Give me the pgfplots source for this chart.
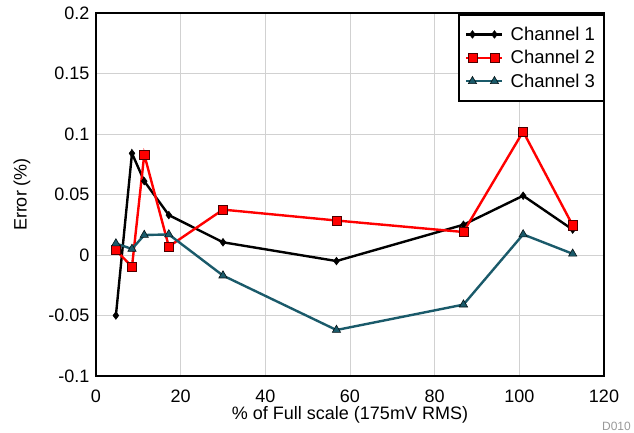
\documentclass[border=0pt]{standalone}
\usepackage{fontspec}
\setmainfont{Liberation Sans}
\usepackage{pgfplots}
\pgfplotsset{compat=1.18}
\definecolor{chthree}{RGB}{26,90,106}
\begin{document}
\begin{tikzpicture}
\useasboundingbox (-96pt,-57pt) rectangle (538pt,376pt);
\begin{axis}[
 at={(0,0)}, anchor=south west,
 scale only axis, width=508pt, height=363pt,
 xmin=0,xmax=120,ymin=-0.1,ymax=0.2,
 xtick={0,20,40,60,80,100,120},
 xticklabels={0,20,40,60,80,100,120},
 ytick={-0.1,-0.05,0,0.05,0.1,0.15,0.2},
 yticklabels={-0.1,-0.05,0,0.05,0.1,0.15,0.2},
 grid=major, grid style={black!18, line width=0.9pt},
 major tick length=0pt,
 axis line style={line width=1.8pt},
 tick label style={font=\fontsize{18}{21}\selectfont},
 yticklabel style={xshift=-3pt},
 xticklabel style={yshift=-10pt},
 xlabel={\% of Full scale (175mV RMS)},
 ylabel={Error (\%)},
 label style={font=\fontsize{18}{21}\selectfont},
 xlabel style={at={(axis description cs:0.5,0)}, anchor=north, yshift=-27pt},
 ylabel style={at={(axis description cs:0,0.5)}, anchor=center, yshift=74pt},
 legend style={at={(1,1)}, anchor=north east, xshift=1pt, yshift=-1pt, draw=black, line width=2pt,
   font=\fontsize{18.5}{22}\selectfont, cells={anchor=west}, nodes={inner sep=3pt},
   inner xsep=6pt, inner ysep=9pt, row sep=2.5pt, column sep=4pt},
 legend image code/.code={
   \draw[mark repeat=2,mark phase=2,#1] plot coordinates {(0pt,0pt) (6pt,0pt) (17pt,0pt) (28pt,0pt) (36pt,0pt)};
 },
]
\addplot[black, line width=2.4pt, mark=diamond*, mark size=3.8pt, mark options={fill=black, line width=0.6pt}]
 coordinates {(4.7,-0.05) (8.5,0.084) (11.4,0.061) (17.2,0.033) (30,0.0105) (56.8,-0.005) (86.8,0.025) (100.9,0.049) (112.6,0.021)};
\addlegendentry{Channel 1}
\addplot[red, line width=2.4pt, mark=square*, mark size=4.6pt, mark options={fill=red, draw=black!70!red, line width=0.6pt}]
 coordinates {(4.7,0.004) (8.5,-0.0097) (11.4,0.083) (17.2,0.007) (30,0.0375) (56.8,0.0285) (86.8,0.019) (100.9,0.102) (112.6,0.0245)};
\addlegendentry{Channel 2}
\addplot[chthree, line width=2.4pt, mark=triangle*, mark size=4.8pt, mark options={fill=chthree, draw=black!80!chthree, line width=0.6pt}]
 coordinates {(4.7,0.0095) (8.5,0.005) (11.4,0.0165) (17.2,0.017) (30,-0.017) (56.8,-0.062) (86.8,-0.041) (100.9,0.017) (112.6,0.001)};
\addlegendentry{Channel 3}
\end{axis}
\node[anchor=south east, text=black!40, font=\fontsize{12}{14}\selectfont, inner sep=1pt] at (536pt,-56pt) {D010};
\end{tikzpicture}
\end{document}
